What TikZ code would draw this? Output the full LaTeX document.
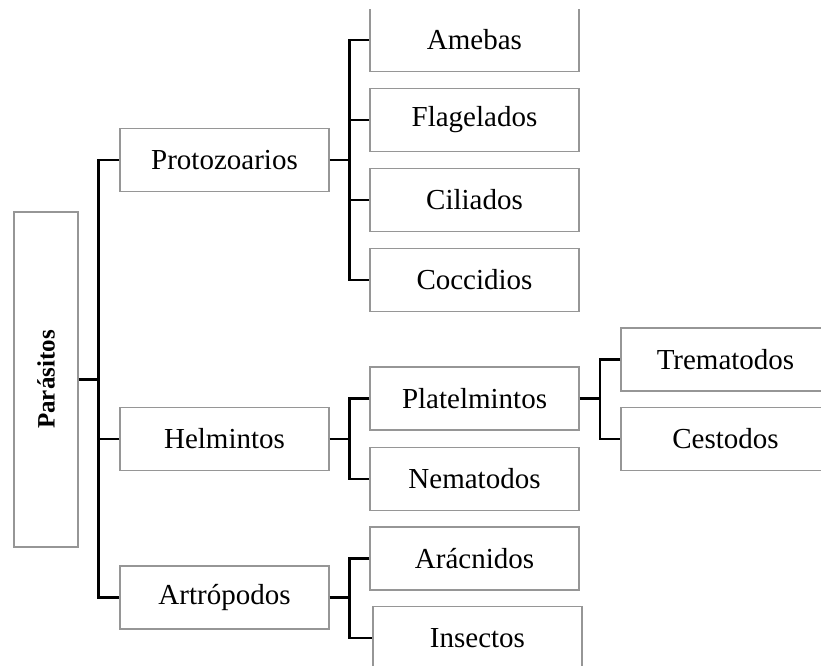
\documentclass[tikz,border=0pt]{standalone}
\usepackage{fontspec}
\setmainfont{Liberation Serif}
\usetikzlibrary{positioning}
\definecolor{boxgray}{HTML}{969696}

\begin{document}
\begin{tikzpicture}[x=0.75pt, y=-0.75pt, font=\fontsize{21.75}{26}\selectfont]
    \tikzstyle{group} = [rectangle, draw=boxgray, line width=1pt, fill=white, minimum width=156.75pt, minimum height=47.25pt, inner sep=0pt, text centered]
    \tikzstyle{root} = [rectangle, draw=boxgray, line width=1pt, fill=white, minimum width=251.25pt, minimum height=48pt, inner sep=0pt, rotate=90, font=\fontsize{18.75}{22}\selectfont\bfseries]
    \tikzstyle{conn} = [draw=black, line width=2pt]

    \useasboundingbox (0,0) rectangle (821,666);
    \clip (0,9.5) rectangle (821,666);

    % Root
    \node [root] (parasitos) at (46,379.5) {Parásitos};

    % First level
    \node [group] (proto) at (224.5,160) {Protozoarios};
    \node [group] (helm) at (224.5,439) {Helmintos};
    \node [group] (artro) at (224.5,597.5) {Artrópodos};

    % Protozoarios
    \node [group] (amebas) at (474.5,40) {Amebas};
    \node [group] (flag) at (474.5,120) {Flagelados};
    \node [group] (cilia) at (474.5,200) {Ciliados};
    \node [group] (cocci) at (474.5,280) {Coccidios};

    % Helmintos
    \node [group] (platel) at (474.5,398.5) {Platelmintos};
    \node [group] (nemat) at (474.5,479) {Nematodos};
    \node [group] (trema) at (725.5,359.5) {Trematodos};
    \node [group] (cesto) at (725.5,439) {Cestodos};

    % Artropodos
    \node [group] (arac) at (474.5,558.5) {Arácnidos};
    \node [group] (insec) at (477.5,638) {Insectos};

    % Buses
    \coordinate (trunk) at (98.5,0);
    \coordinate (busA) at (349.5,0);
    \coordinate (busB) at (600,0);

    % Connections
    \draw [conn] (parasitos.south) -- (parasitos.south -| trunk);
    \draw [conn] (proto.west) -| (trunk |- helm) |- (artro.west);
    \draw [conn] (helm.west) -- (helm.west -| trunk);

    \draw [conn] (proto.east) -- (proto.east -| busA);
    \draw [conn] (amebas.west) -| (busA |- cocci) -- (cocci.west);
    \draw [conn] (flag.west) -- (flag.west -| busA);
    \draw [conn] (cilia.west) -- (cilia.west -| busA);

    \draw [conn] (helm.east) -- (helm.east -| busA);
    \draw [conn] (platel.west) -| (busA |- nemat) -- (nemat.west);

    \draw [conn] (platel.east) -- (platel.east -| busB);
    \draw [conn] (trema.west) -| (busB |- cesto) -- (cesto.west);

    \draw [conn] (artro.east) -- (artro.east -| busA);
    \draw [conn] (arac.west) -| (busA |- insec) -- (insec.west);
\end{tikzpicture}
\end{document}
